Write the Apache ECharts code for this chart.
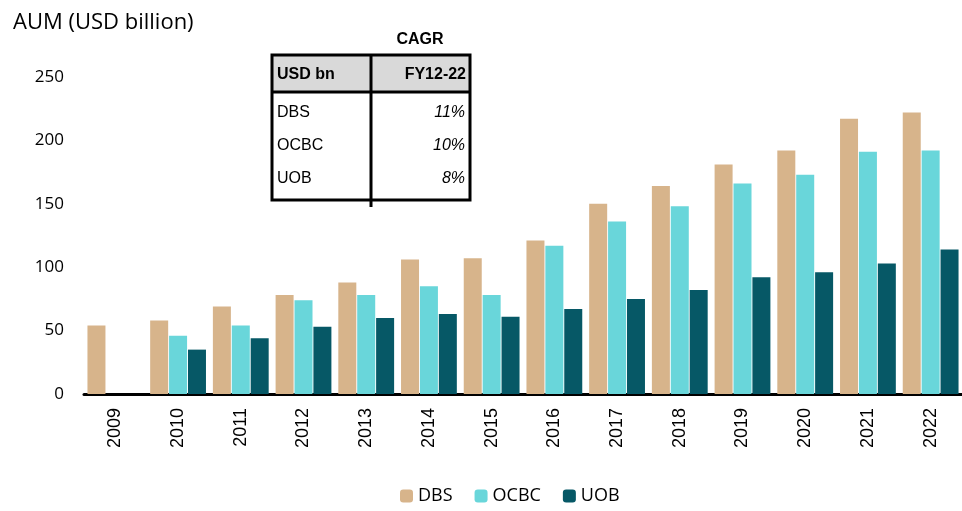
<!DOCTYPE html>
<html>
<head>
<meta charset="utf-8">
<script src="https://cdn.jsdelivr.net/npm/echarts@6/dist/echarts.min.js"></script>
<style>
  html, body { margin: 0; padding: 0; background: #fff; }
  #main { width: 962px; height: 511px; }
</style>
</head>
<body>
<div id="main"></div>
<script>
var years = ['2009', '2010', '2011', '2012', '2013', '2014', '2015', '2016', '2017', '2018', '2019', '2020', '2021', '2022'];
var dbs  = [54, 58, 69, 78, 88, 106, 107, 121, 150, 164, 181, 192, 217, 222];
var ocbc = [null, 46, 54, 74, 78, 85, 78, 117, 136, 148, 166, 173, 191, 192];
var uob  = [null, 35, 44, 53, 60, 63, 61, 67, 75, 82, 92, 96, 103, 114];
var yTicks = [0, 50, 100, 150, 200, 250];

// CAGR box
var tableHead = ['USD bn', 'FY12-22'];
var tableBanks = ['DBS', 'OCBC', 'UOB'];
var tableCagr = ['11%', '10%', '8%'];

var colors = ['#d7b48b', '#69d6da', '#065866'];
var mainFont = '"Open Sans", "Noto Sans", sans-serif';
var tblFont = '"Liberation Sans Narrow", "Liberation Sans", sans-serif';

var chart = echarts.init(document.getElementById('main'));

var tbl = [];
// header fill
tbl.push({ type: 'rect', shape: { x: 272, y: 55, width: 198, height: 37 }, style: { fill: '#d9d9d9' } });
// borders
tbl.push({ type: 'rect', shape: { x: 272, y: 55, width: 198, height: 145 }, style: { fill: 'none', stroke: '#000', lineWidth: 3 } });
tbl.push({ type: 'line', shape: { x1: 272, y1: 92, x2: 470, y2: 92 }, style: { stroke: '#000', lineWidth: 3 } });
tbl.push({ type: 'line', shape: { x1: 371, y1: 55, x2: 371, y2: 207 }, style: { stroke: '#000', lineWidth: 3 } });
tbl.push({ type: 'text', style: { text: 'CAGR', x: 420, y: 40, textAlign: 'center', textVerticalAlign: 'middle', font: 'bold 16px ' + tblFont, fill: '#000' } });
tbl.push({ type: 'text', style: { text: tableHead[0], x: 277, y: 75, textVerticalAlign: 'middle', font: 'bold 16px ' + tblFont, fill: '#000' } });
tbl.push({ type: 'text', style: { text: tableHead[1], x: 466, y: 75, textAlign: 'right', textVerticalAlign: 'middle', font: 'bold 16px ' + tblFont, fill: '#000' } });
tableBanks.forEach(function (b, i) {
  var yy = 113 + i * 33;
  tbl.push({ type: 'text', style: { text: b, x: 277, y: yy, textVerticalAlign: 'middle', font: '16px ' + tblFont, fill: '#000' } });
  tbl.push({ type: 'text', style: { text: tableCagr[i], x: 465, y: yy, textAlign: 'right', textVerticalAlign: 'middle', font: 'italic 16px ' + tblFont, fill: '#000' } });
});

var option = {
  backgroundColor: '#fff',
  animation: false,
  title: {
    text: 'AUM (USD billion)',
    left: 8,
    top: 7,
    textStyle: { fontFamily: mainFont, fontWeight: 'normal', fontSize: 22, color: '#000' }
  },
  legend: {
    left: 395,
    bottom: 1,
    itemWidth: 13,
    itemHeight: 13,
    itemGap: 22,
    textStyle: { fontFamily: mainFont, fontSize: 18, color: '#000' },
    data: ['DBS', 'OCBC', 'UOB']
  },
  grid: { left: 84, right: -6, top: 77, bottom: 117 },
  xAxis: {
    type: 'category',
    data: years,
    axisLine: { lineStyle: { color: '#000', width: 3 } },
    axisTick: { show: false },
    axisLabel: { rotate: 90, fontFamily: '"Liberation Sans", Arial, sans-serif', fontSize: 18, color: '#000', margin: 14, interval: 0 }
  },
  yAxis: {
    type: 'value',
    min: yTicks[0],
    max: yTicks[yTicks.length - 1],
    interval: 50,
    axisLine: { show: false },
    axisTick: { show: false },
    splitLine: { show: false },
    axisLabel: { fontFamily: mainFont, fontSize: 17, color: '#000', margin: 20 }
  },
  series: [
    { name: 'DBS', type: 'bar', data: dbs, barWidth: 18, barGap: '5%', itemStyle: { color: colors[0] } },
    { name: 'OCBC', type: 'bar', data: ocbc, barWidth: 18, barGap: '5%', itemStyle: { color: colors[1] } },
    { name: 'UOB', type: 'bar', data: uob, barWidth: 18, barGap: '5%', itemStyle: { color: colors[2] } }
  ],
  graphic: tbl
};
chart.setOption(option);
</script>
</body>
</html>
